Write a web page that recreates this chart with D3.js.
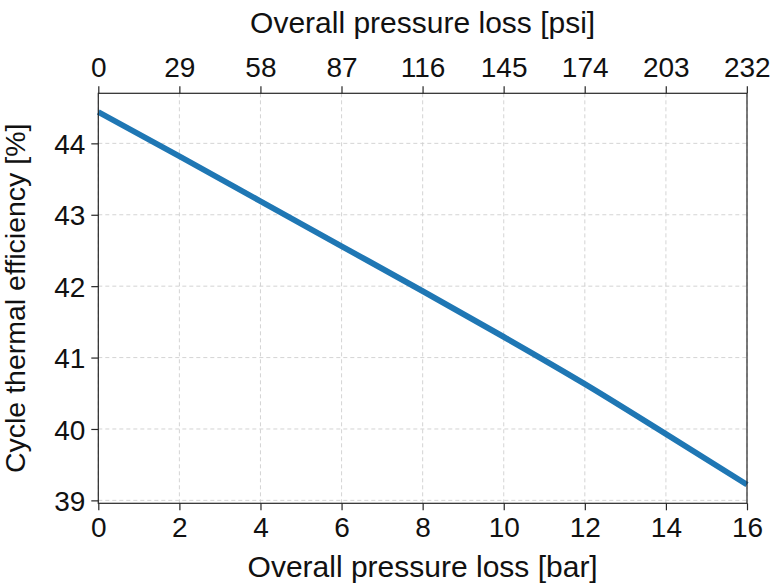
<!DOCTYPE html>
<html>
<head>
<meta charset="utf-8">
<script src="https://cdn.jsdelivr.net/npm/d3@7"></script>
<style>
html,body{margin:0;padding:0;background:#fff;}
svg{display:block;}
text{font-family:"Liberation Sans",Arial,sans-serif;fill:#111;}
</style>
</head>
<body>
<svg id="chart" width="776" height="584"></svg>
<script>
// Data
const pressureLossBar = [0, 2, 4, 6, 8, 10, 12, 14, 16];
const efficiency = [44.44, 43.82, 43.19, 42.56, 41.93, 41.29, 40.63, 39.93, 39.22];
const barTicks = [0, 2, 4, 6, 8, 10, 12, 14, 16];
const psiTicks = [0, 29, 58, 87, 116, 145, 174, 203, 232];
const effTicks = [39, 40, 41, 42, 43, 44];
const BAR_TO_PSI = 14.5038;

const svg = d3.select("#chart");
const m = {left: 98.3, right: 776 - 747, top: 93.3, bottom: 584 - 503.3};
const W = 776 - m.left - m.right, H = 584 - m.top - m.bottom;
const g = svg.append("g").attr("transform", `translate(${m.left},${m.top})`);

const x = d3.scaleLinear().domain([0, 16]).range([0, W]);
const xTop = d3.scaleLinear().domain([0, 16 * BAR_TO_PSI]).range([0, W]);
const [ymin, ymax] = d3.extent(efficiency);
const pad = (ymax - ymin) * 0.05;
const y = d3.scaleLinear().domain([ymin - pad, ymax + pad]).range([H, 0]);

// Grid
const grid = g.append("g");
grid.selectAll(".gx").data(barTicks).join("line")
  .attr("x1", d => x(d)).attr("x2", d => x(d)).attr("y1", 0).attr("y2", H)
  .attr("stroke", "#cfcfcf").attr("stroke-width", 0.9).attr("stroke-dasharray", "4,3");
grid.selectAll(".gy").data(effTicks).join("line")
  .attr("y1", d => y(d)).attr("y2", d => y(d)).attr("x1", 0).attr("x2", W)
  .attr("stroke", "#cfcfcf").attr("stroke-width", 0.9).attr("stroke-dasharray", "4,3");

// Line
const line = d3.line().x((d, i) => x(pressureLossBar[i])).y(d => y(d)).curve(d3.curveMonotoneX);
g.append("path").datum(efficiency).attr("d", line)
  .attr("fill", "none").attr("stroke", "#1f77b4").attr("stroke-width", 5.8)
  .attr("stroke-linecap", "butt");

// Axes
const tickFont = 28;
const axB = g.append("g").attr("transform", `translate(0,${H})`)
  .call(d3.axisBottom(x).tickValues(barTicks).tickSize(7).tickPadding(7).tickFormat(d3.format("d")));
const axT = g.append("g")
  .call(d3.axisTop(xTop).tickValues(psiTicks).tickSize(7).tickPadding(9).tickFormat(d3.format("d")));
const axL = g.append("g")
  .call(d3.axisLeft(y).tickValues(effTicks).tickSize(7).tickPadding(6).tickFormat(d3.format("d")));
[axB, axT, axL].forEach(a => {
  a.select(".domain").remove();
  a.selectAll(".tick line").attr("stroke", "#262626").attr("stroke-width", 1.2);
  a.selectAll(".tick text").attr("font-size", tickFont).attr("fill", "#111")
    .attr("font-family", '"Liberation Sans",Arial,sans-serif');
});
axL.selectAll(".tick text").attr("dy", "0.36em");

// Frame
g.append("rect").attr("x", 0).attr("y", 0).attr("width", W).attr("height", H)
  .attr("fill", "none").attr("stroke", "#262626").attr("stroke-width", 1.2);

// Labels
const labFont = 30;
svg.append("text").attr("x", m.left + W / 2).attr("y", 577).attr("text-anchor", "middle")
  .attr("font-size", labFont).text("Overall pressure loss [bar]");
svg.append("text").attr("x", m.left + W / 2).attr("y", 33).attr("text-anchor", "middle")
  .attr("font-size", labFont).text("Overall pressure loss [psi]");
svg.append("text").attr("transform", `translate(25,${m.top + H / 2}) rotate(-90)`)
  .attr("text-anchor", "middle").attr("font-size", 28.5).text("Cycle thermal efficiency [%]");
</script>
</body>
</html>
